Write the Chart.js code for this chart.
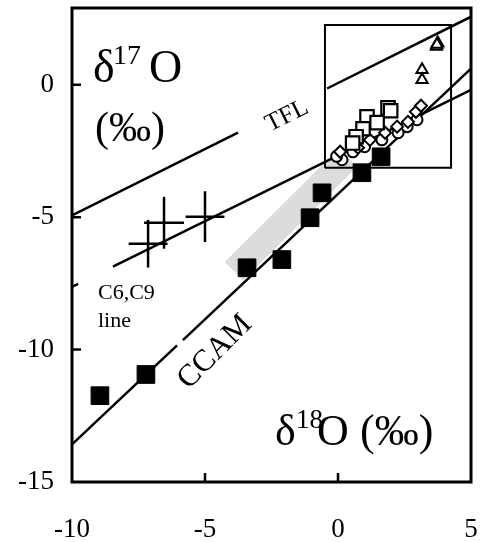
<!DOCTYPE html>
<html>
<head>
<meta charset="utf-8">
<script src="https://cdn.jsdelivr.net/npm/chart.js@4.4.0/dist/chart.umd.min.js"></script>
<style>
  html, body { margin: 0; padding: 0; background: #fff; }
  #wrap { width: 482px; height: 542px; }
</style>
</head>
<body>
<div id="wrap"><canvas id="c" width="482" height="542"></canvas></div>
<script>
// axis ticks
const xTicks = [-10, -5, 0, 5]
const yTicks = [-15, -10, -5, 0]

// CCAM samples (black squares)
const ccamSquares = [[-8.95, -11.74], [-7.22, -10.94], [-3.42, -6.91], [-2.11, -6.60], [-1.05, -5.02], [-0.60, -4.08], [0.90, -3.32], [1.62, -2.72]]
// crosses: centre, half-width in x, half-height in y
const crossCenters = [[-7.14, -6.00], [-6.54, -5.21], [-5.00, -4.98]]
const crossErrX = [0.73, 0.75, 0.73]
const crossErrY = [0.90, 0.98, 0.96]
// inset samples
const openSquares = [[1.88, -0.87], [1.98, -0.98], [1.09, -1.21], [1.47, -1.43], [0.94, -1.66], [0.68, -1.96], [0.55, -2.20]]
const openCircles = [[0.15, -2.83], [0.56, -2.53], [1.00, -2.34], [1.65, -2.08], [2.26, -1.81], [2.60, -1.58], [2.97, -1.32], [-0.05, -2.70]]
const openDiamonds = [[0.08, -2.53], [0.75, -2.38], [1.20, -2.08], [1.77, -1.81], [2.22, -1.58], [2.63, -1.40], [2.93, -1.02], [3.12, -0.79]]
const openTriangles = [[3.70, 1.45], [3.75, 1.58], [3.72, 1.52], [3.16, 0.57], [3.16, 0.19]]

// reference lines, broken where labels sit
const tflSegments = [[[-10, -4.93], [-3.76, -1.81]], [[-0.41, -0.14], [5, 2.57]]]
const ccamSegments = [[[-10, -13.58], [-6.05, -9.84]], [[-5.83, -9.64], [5, 0.61]]]
const c6c9Segments = [[[-10, -7.63], [-9.77, -7.52]], [[-8.46, -6.87], [5, -0.19]]]
const grayBand = [[-3.91, -7.04], [0.38, -2.74]]
const insetBox = [[-0.49, -3.13], [4.25, -3.13], [4.25, 2.26], [-0.49, 2.26], [-0.49, -3.13]]

const pts = arr => arr.map(([x, y]) => ({ x, y }))
const SERIF = '"Liberation Serif", "DejaVu Serif", serif'

const lineSet = (data, extra = {}) => Object.assign({
    data: pts(data),
    showLine: true,
    borderColor: '#000',
    borderWidth: 2.5,
    pointRadius: 0,
    order: 5
}, extra)

const datasets = []
datasets.push(lineSet(grayBand, { borderColor: '#dcdcdc', borderWidth: 26, borderCapStyle: 'butt', order: 10 }))
for (const seg of [...tflSegments, ...ccamSegments, ...c6c9Segments]) datasets.push(lineSet(seg))
datasets.push(lineSet(insetBox, { borderWidth: 2 }))
crossCenters.forEach(([cx, cy], i) => {
    datasets.push(lineSet([[cx - crossErrX[i], cy], [cx + crossErrX[i], cy]]))
    datasets.push(lineSet([[cx, cy - crossErrY[i]], [cx, cy + crossErrY[i]]]))
})
const markerSet = (data, style, radius, fill, extra = {}) => Object.assign({
    data: pts(data),
    pointStyle: style,
    pointRadius: radius,
    backgroundColor: fill,
    borderColor: '#000',
    borderWidth: 2,
    order: 1
}, extra)
datasets.push(markerSet(openCircles, 'circle', 5.5, '#fff', { order: 3 }))
datasets.push(markerSet(openDiamonds, 'rectRot', 6, '#fff', { order: 2 }))
datasets.push(markerSet(openSquares, 'rect', 9.5, '#fff', { borderWidth: 2.2 }))
datasets.push(markerSet(openTriangles, 'triangle', 6.5, '#fff'))
datasets.push(markerSet(ccamSquares, 'rect', 12.5, '#000', { borderWidth: 1 }))

// frame, inward tick marks and labels
const decor = {
    id: 'decor',
    afterDatasetsDraw(chart) {
        const { ctx, chartArea: a, scales: { x, y } } = chart
        ctx.save()
        ctx.strokeStyle = '#000'
        ctx.lineWidth = 3
        ctx.strokeRect(a.left, a.top, a.right - a.left, a.bottom - a.top)
        ctx.lineWidth = 2.5
        ctx.beginPath()
        for (const v of [-10, -5, 0]) {
            const py = y.getPixelForValue(v)
            ctx.moveTo(a.left, py); ctx.lineTo(a.left + 9, py)
        }
        for (const v of [-5, 0]) {
            const px = x.getPixelForValue(v)
            ctx.moveTo(px, a.bottom); ctx.lineTo(px, a.bottom - 9)
        }
        ctx.stroke()

        ctx.fillStyle = '#000'
        ctx.textBaseline = 'alphabetic'
        ctx.textAlign = 'left'
        // y title
        ctx.font = '46px ' + SERIF
        ctx.fillText('δ', 93, 82)
        ctx.font = '28px ' + SERIF
        ctx.fillText('17', 113, 64)
        ctx.font = '46px ' + SERIF
        ctx.fillText('O', 149, 82)
        ctx.font = '42px ' + SERIF
        ctx.fillText('(‰)', 95, 141)
        // x title
        ctx.font = '44px ' + SERIF
        ctx.fillText('δ', 275, 445)
        ctx.font = '27px ' + SERIF
        ctx.fillText('18', 296, 428)
        ctx.font = '44px ' + SERIF
        ctx.fillText('O', 317, 445)
        ctx.fillText('(‰)', 360, 445)
        // line names
        ctx.font = '22px ' + SERIF
        ctx.fillText('C6,C9', 98, 299)
        ctx.fillText('line', 98, 327)
        ctx.textAlign = 'center'
        ctx.textBaseline = 'middle'
        ctx.save()
        ctx.translate(287, 116)
        ctx.rotate(-26.5 * Math.PI / 180)
        ctx.font = '25px ' + SERIF
        ctx.fillText('TFL', 0, 0)
        ctx.restore()
        ctx.save()
        ctx.translate(215, 352)
        ctx.rotate(-45 * Math.PI / 180)
        ctx.font = '31px ' + SERIF
        ctx.fillText('CCAM', 0, 0)
        ctx.restore()
        ctx.restore()
    }
}

const noPad = s => { s.paddingLeft = 0; s.paddingRight = 0; s.paddingTop = 0; s.paddingBottom = 0 }

new Chart(document.getElementById('c'), {
    type: 'scatter',
    data: { datasets },
    options: {
        responsive: false,
        animation: false,
        layout: { autoPadding: false, padding: { left: 0, right: 11, top: 8, bottom: 0 } },
        scales: {
            x: {
                type: 'linear',
                min: -10,
                max: 5,
                grid: { display: false },
                border: { display: false },
                afterBuildTicks: s => { s.ticks = xTicks.map(value => ({ value })) },
                afterFit: s => { s.height = 60; noPad(s) },
                ticks: { color: '#000', padding: 24, maxRotation: 0, font: { family: SERIF, size: 27 } }
            },
            y: {
                type: 'linear',
                min: -15,
                max: 2.9,
                grid: { display: false },
                border: { display: false },
                afterBuildTicks: s => { s.ticks = yTicks.map(value => ({ value })) },
                afterFit: s => { s.width = 72; noPad(s) },
                ticks: { color: '#000', padding: 10, font: { family: SERIF, size: 27 } }
            }
        },
        plugins: {
            legend: { display: false },
            tooltip: { enabled: false }
        }
    },
    plugins: [decor]
})
</script>
</body>
</html>
